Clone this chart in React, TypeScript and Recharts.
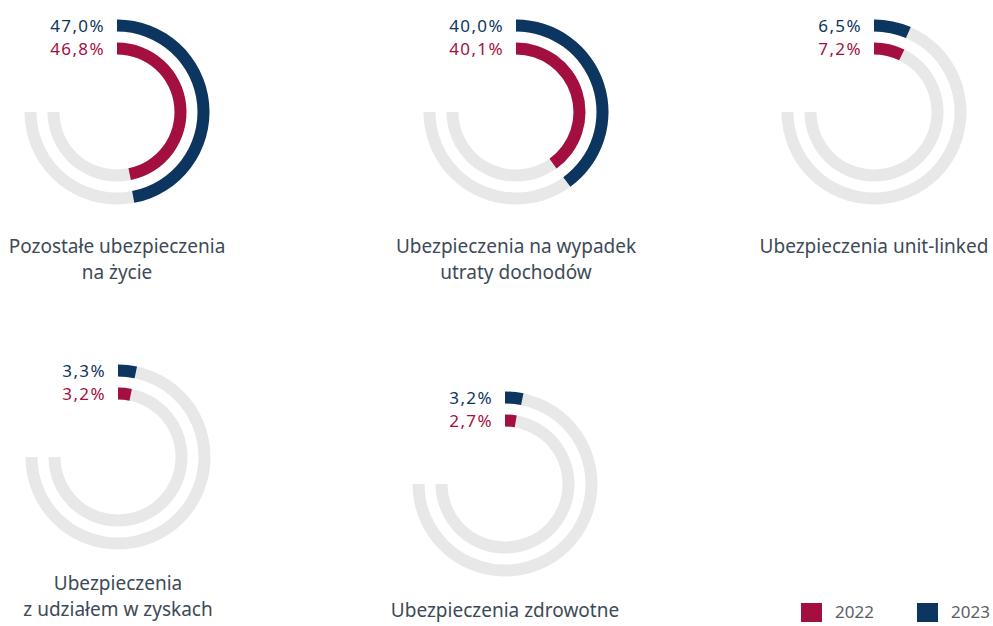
import { RadialBarChart, RadialBar, PolarAngleAxis, Cell } from 'recharts';

const categories = [
  ['Pozostałe ubezpieczenia', 'na życie'],
  ['Ubezpieczenia na wypadek', 'utraty dochodów'],
  ['Ubezpieczenia unit-linked'],
  ['Ubezpieczenia', 'z udziałem w zyskach'],
  ['Ubezpieczenia zdrowotne'],
];
const years = ['2022', '2023'];
const values2022 = [46.8, 40.1, 7.2, 3.2, 2.7];
const values2023 = [47.0, 40.0, 6.5, 3.3, 3.2];
// 270° track = 75% of a full circle
const angleDomain: [number, number] = [0, 75];

const CRIMSON = '#a30f3e';
const NAVY = '#0c3560';
const TRACK = '#e8e8e8';
const TEXT = '#3d4a57';
const FONT = '"Noto Sans", "Open Sans", sans-serif';

// panel centre (chart) and caption top, in page pixels
const layout = [
  { cx: 117, cy: 112, labelTop: 233 },
  { cx: 516, cy: 112, labelTop: 233 },
  { cx: 874, cy: 112, labelTop: 233 },
  { cx: 118, cy: 457, labelTop: 570 },
  { cx: 505, cy: 484, labelTop: 597 },
];

const W = 240;
const H = 220;

function fmtPct(v: number) {
  return `${v.toFixed(1).replace('.', ',')}%`;
}

function ValueLabel(props: any) {
  const { viewBox, value, index } = props;
  if (!viewBox) return null;
  const r = (viewBox.innerRadius + viewBox.outerRadius) / 2;
  return (
    <text
      x={viewBox.cx - 12}
      y={viewBox.cy - r}
      textAnchor="end"
      dominantBaseline="central"
      fill={index === 0 ? CRIMSON : NAVY}
      fontSize={17}
      letterSpacing={1.4}
      fontFamily={FONT}
    >
      {fmtPct(Number(value))}
    </text>
  );
}

function Panel({ i }: { i: number }) {
  const { cx, cy, labelTop } = layout[i];
  const data = years.map((y, k) => ({
    year: y,
    value: k === 0 ? values2022[i] : values2023[i],
  }));
  return (
    <>
      <div style={{ position: 'absolute', left: cx - W / 2, top: cy - 112 }}>
        <RadialBarChart
          width={W}
          height={H}
          cx={W / 2}
          cy={112}
          innerRadius={51.5}
          outerRadius={97.5}
          startAngle={90}
          endAngle={-180}
          barSize={12}
          data={data}
        >
          <PolarAngleAxis type="number" domain={angleDomain} tick={false} axisLine={false} />
          <RadialBar
            dataKey="value"
            background={{ fill: TRACK }}
            isAnimationActive={false}
            label={ValueLabel}
          >
            {data.map((d, k) => (
              <Cell key={d.year} fill={k === 0 ? CRIMSON : NAVY} />
            ))}
          </RadialBar>
        </RadialBarChart>
      </div>
      <div
        style={{
          position: 'absolute',
          left: cx - 160,
          top: labelTop,
          width: 320,
          textAlign: 'center',
          fontSize: 19,
          lineHeight: '26px',
          color: TEXT,
        }}
      >
        {categories[i].map(line => (
          <div key={line}>{line}</div>
        ))}
      </div>
    </>
  );
}

export default function App() {
  return (
    <div
      style={{
        position: 'absolute',
        left: 0,
        top: 0,
        width: 993,
        height: 626,
        background: '#fff',
        overflow: 'hidden',
        fontFamily: FONT,
      }}
    >
      {categories.map((_, i) => (
        <Panel key={i} i={i} />
      ))}

      {/* legend */}
      {years.map((y, k) => (
        <div
          key={y}
          style={{
            position: 'absolute',
            left: k === 0 ? 801 : 917,
            top: 601,
            display: 'flex',
            alignItems: 'center',
            fontSize: 17,
            lineHeight: '22px',
            color: '#5a5f66',
          }}
        >
          <span style={{ width: 21, height: 19, background: k === 0 ? CRIMSON : NAVY, marginRight: 13 }} />
          <span>{y}</span>
        </div>
      ))}
    </div>
  );
}
